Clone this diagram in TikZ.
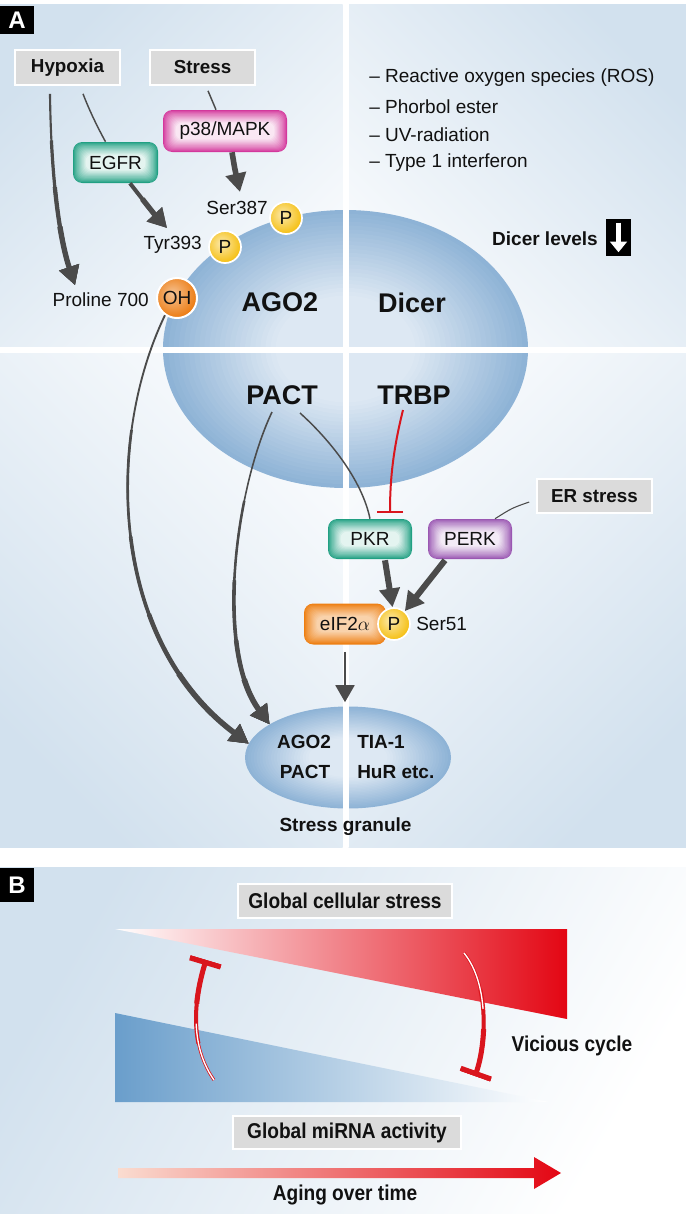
\documentclass[tikz,border=0pt]{standalone}
\usepackage{fontspec}
\setmainfont{Liberation Sans}
\newfontfamily\condf[FakeStretch=0.89]{Liberation Sans}
\usetikzlibrary{arrows.meta,shapes.geometric,calc}
\definecolor{qblue}{HTML}{D2E1EE}
\definecolor{qwhite}{HTML}{F9FBFD}
\definecolor{ellout}{HTML}{8EB3D6}
\definecolor{ellin}{HTML}{DDE8F3}
\definecolor{boxgray}{HTML}{DBDBDB}
\definecolor{arrgray}{HTML}{4B4B4B}
\definecolor{tealc}{HTML}{21A083}
\definecolor{magc}{HTML}{D3389C}
\definecolor{purc}{HTML}{9A57B2}
\definecolor{orgc}{HTML}{EE7E10}
\definecolor{yelc}{HTML}{F5C015}
\definecolor{ohc}{HTML}{EB780C}
\definecolor{redc}{HTML}{E30613}
\definecolor{inhred}{HTML}{D9151D}
\definecolor{bluec}{HTML}{6A9ECB}
\definecolor{pinkc}{HTML}{FADCD0}
\definecolor{txtc}{HTML}{111111}
\pgfdeclareradialshading{yelball}{\pgfpoint{-6bp}{6bp}}{color(0bp)=(yelc!35); color(28bp)=(yelc); color(75bp)=(yelc)}
\pgfdeclareradialshading{ohball}{\pgfpoint{-6bp}{6bp}}{color(0bp)=(ohc!45); color(30bp)=(ohc); color(75bp)=(ohc)}
\newcommand\taperpath[3]{\foreach \tW/\tO in {#2}{\draw[#1, line width=\tW pt, dash pattern=on 0pt off \tO pt on 3000pt] #3;}}
\newcommand\ellgrad[3]{\foreach \gi in {1,...,24}{\pgfmathsetmacro\gf{1-0.028*\gi}\pgfmathsetmacro\gp{min(100,4.6*\gi)}\pgfmathsetmacro\grx{#2*\gf}\pgfmathsetmacro\gry{#3*\gf}\fill[ellin!\gp!ellout] (#1.center) ellipse [x radius=\grx, y radius=\gry];}}
\begin{document}
\begin{tikzpicture}[x=0.75pt, y=-0.75pt,
  every node/.style={text=txtc, font=\fontsize{14.25}{17}\selectfont},
  txt/.style={inner sep=0pt},
  graybox/.style={fill=boxgray, draw=white, line width=1.2pt, minimum height=26.25pt, inner sep=0pt, font=\fontsize{14.1}{17}\selectfont\bfseries},
  glowbox/.style 2 args={rounded corners=7pt, inner sep=0pt, minimum height=30.75pt, fill=#1,
    path picture={\foreach \i in {1,...,12}{\pgfmathsetmacro\pc{100-(100-#2)*(\i/12)^0.85}
      \fill[#1!\pc!white, rounded corners=5pt] ($(path picture bounding box.south west)+(1.05*\i,-1.05*\i)$) rectangle ($(path picture bounding box.north east)+(-1.05*\i,1.05*\i)$);}}},
  pcirc/.style={circle, shading=yelball, draw=white, line width=1.3pt, minimum size=24pt, inner sep=0pt},
  ohcirc/.style={circle, shading=ohball, draw=white, line width=1.5pt, minimum size=30pt, inner sep=0pt},
  bigt/.style={font=\fontsize{20.25}{24}\selectfont\bfseries},
  bt/.style={font=\fontsize{14.25}{17}\selectfont\bfseries},
  condt/.style={font=\fontsize{16.1}{19}\condf\bfseries},
  condbox/.style={fill=boxgray, draw=white, line width=1.2pt, inner sep=0pt, condt},
  garr/.style={draw=arrgray, -{Triangle[length=14pt,width=15pt]}},
  inh/.style={draw=inhred, -{Bar[width=24pt]}},
  labbox/.style={fill=black, text=white, inner sep=0pt, font=\fontsize{18}{20}\selectfont\bfseries}]
% page
\fill[white] (0,0) rectangle (686,1215);
% panel A background quadrants
\shade[top color=qblue, bottom color=qwhite, shading angle=45] (0,4) rectangle (342.5,347);
\shade[top color=qblue, bottom color=qwhite, shading angle=-45] (348.5,4) rectangle (686,347);
\shade[top color=qblue, bottom color=qwhite, shading angle=135] (0,352.5) rectangle (342.5,847);
\shade[top color=qblue, bottom color=qwhite, shading angle=-135] (348.5,352.5) rectangle (686,847);
% ellipses
\node[ellipse, fill=ellout, minimum width=273.75pt, minimum height=208.5pt, inner sep=0pt] (big) at (345.5,349) {};
\ellgrad{big}{182}{139}
\node[ellipse, fill=ellout, minimum width=154.5pt, minimum height=76.5pt, inner sep=0pt] (sg) at (348,757.5) {};
\ellgrad{sg}{103}{51}
% white cross
\fill[white] (342.5,0) rectangle (348.5,847);
\fill[white] (0,347) rectangle (686,352.5);
% labels
\node[labbox, minimum width=25.5pt, minimum height=21pt] (labA) at (17,20) {A};
% ellipse texts
\node[bigt] (ago) at (280,302) {AGO2};
\node[bigt] (dicer) at (412,303) {Dicer};
\node[bigt] (pact) at (282,395) {PACT};
\node[bigt] (trbp) at (414,395) {TRBP};
% boxes
\node[graybox, minimum width=78.75pt] (hyp) at (67.5,67.5) {Hypoxia};
\node[graybox, minimum width=78.75pt] (str) at (202.5,67.5) {Stress};
\node[graybox, minimum width=86.25pt, minimum height=25.5pt] (er) at (594.5,496) {ER stress};
\node[glowbox={magc}{12}, minimum width=93pt, minimum height=31.5pt] (p38) at (225,131) {p38/MAPK};
\node[glowbox={tealc}{12}, minimum width=63.75pt] (egfr) at (115.5,162.5) {EGFR};
\node[glowbox={tealc}{12}, minimum width=63pt, minimum height=30pt] (pkr) at (370,539) {PKR};
\node[glowbox={purc}{12}, minimum width=63pt, minimum height=30pt] (perk) at (470,539) {PERK};
\node[glowbox={orgc}{35}, minimum width=61.5pt] (eif) at (345,624) {eIF2$\alpha$};
\node[pcirc] (p3) at (394,624) {P};
\node[txt, anchor=west] (ser51) at (416,624) {Ser51};
% modification sites
\node[pcirc] (p1) at (286,218) {P};
\node[txt, anchor=east] (ser387) at (268,208) {Ser387};
\node[pcirc] (p2) at (225,247) {P};
\node[txt, anchor=east] (tyr) at (202,245) {Tyr393};
\node[ohcirc] (oh) at (177,298) {OH};
\node[txt, anchor=east] (pro) at (149,300) {Proline 700};
% list
\node[txt, anchor=west] (b1) at (369,78) {– Reactive oxygen species (ROS)};
\node[txt, anchor=west] (b2) at (369,106.5) {– Phorbol ester};
\node[txt, anchor=west] (b3) at (369,135) {– UV-radiation};
\node[txt, anchor=west] (b4) at (369,163) {– Type 1 interferon};
% Dicer levels
\node[bt] (dl) at (545,239) {Dicer levels};
\node[fill=black, minimum width=18.75pt, minimum height=27.75pt, inner sep=0pt] (dbox) at (618.5,237.5) {};
\draw[white, line width=4.2pt, -{Triangle[length=8pt,width=12.5pt]}, shorten <=3pt, shorten >=3pt] (dbox.north) -- (dbox.south);
% stress granule texts
\node[bt] (sg1) at (304,742) {AGO2};
\node[bt] (sg2) at (305,772) {PACT};
\node[bt, inner sep=0pt, anchor=west] (sg3) at (357,742) {TIA-1};
\node[bt, inner sep=0pt, anchor=west] (sg4) at (357,772) {HuR etc.};
\node[bt] (sgl) at (345.5,827) {Stress granule};
% free ends
\coordinate (proTip) at (75,285);
\coordinate (tyrTip) at (167,228);
\coordinate (serTip) at (240,192);
% connectors panel A
\draw[arrgray, line width=1.1pt] ($(hyp.south)+(15.5,8)$) .. controls (90,112) and (98,128) .. ($(egfr.north)+(-10,0)$);
\draw[arrgray, line width=1.1pt] ($(str.south)+(5.5,5)$) -- ($(p38.north)+(-9,0)$);
\taperpath{garr}{1.6/0, 2.4/35, 3.2/70, 4.0/100}{($(hyp.south)+(-17.5,8)$) .. controls (51,180) and (60,240) .. (proTip)}
\taperpath{garr}{3.0/0, 4.0/15}{($(egfr.south)+(14.5,0)$) .. controls (143,200) and (155,215) .. (tyrTip)}
\draw[garr, line width=4.2pt] ($(p38.south)+(7,0)$) .. controls (235,170) .. (serTip);
\taperpath{garr}{1.4/0, 2.0/90, 2.7/170, 3.4/230, 4.2/280}{(oh.-125) .. controls (105,440) and (110,640) .. (sg.172)}
\taperpath{garr}{1.2/0, 1.9/70, 2.7/130, 3.4/175, 4.2/205}{($(pact.center)+(-10,17)$) .. controls (235,490) and (215,650) .. (sg.157)}
\draw[arrgray, line width=1.1pt] ($(pact.center)+(18,18)$) .. controls (330,440) and (362,480) .. (pkr.north);
\draw[inh, line width=1.5pt, -{Bar[width=19.5pt]}] ($(trbp.center)+(-11,15)$) .. controls (393,450) and (390,480) .. ($(pkr.north)+(20,-6)$);
\draw[arrgray, line width=0.8pt] ($(er.west)+(-7,6)$) .. controls (512,508) .. ($(perk.north)+(25,0)$);
\draw[garr, line width=4.5pt] ($(pkr.south)+(15,1)$) -- (p3.95);
\draw[garr, line width=4.5pt] ($(perk.south)+(-25,1)$) -- (p3.50);
\draw[draw=arrgray, line width=2.2pt, -{Triangle[length=12.75pt,width=14pt]}] ($(eif.south)+(0,7)$) -- ($(sg.north)+(-3,-4)$);
% ===== panel B =====
\shade[top color=qblue, bottom color=white, shading angle=60] (0,867) rectangle (686,1213);
\node[labbox, minimum width=25.5pt, minimum height=26pt] (labB) at (17,885) {B};
\shade[left color=white, right color=redc] (115,929) -- (567,929) -- (567,1019) -- cycle;
\shade[left color=bluec, right color=white] (115,1013) -- (115,1102) -- (549,1102) -- cycle;
\node[condbox, minimum width=160.5pt, minimum height=25.5pt] (gcs) at (345,901) {Global cellular stress};
\node[condbox, minimum width=171pt, minimum height=24.75pt] (gma) at (347,1132.5) {Global miRNA activity};
\node[condt] (vc) at (572,1046) {Vicious cycle};
\node[condt] (aging) at (345,1195) {Aging over time};
\shade[left color=pinkc, right color=redc] (118,1168) -- (534,1168) -- (534,1157) -- (561,1173) -- (534,1189) -- (534,1178) -- (118,1178) -- cycle;
% inhibition arcs
\coordinate (lA) at (214,1080);
\coordinate (lB) at (206,960);
\coordinate (rA) at (464,953);
\coordinate (rB) at (475,1076);
\taperpath{inh}{2.2/0, 3.0/30, 3.8/60}{(lA) .. controls (186,1040) and (197,990) .. (lB)}
\draw[white, line width=1pt, dash pattern=on 45pt off 3000pt] (lA) .. controls (186,1040) and (197,990) .. (lB);
\taperpath{inh}{2.2/0, 3.0/30, 3.8/60}{(rA) .. controls (490,985) and (486,1045) .. (rB)}
\draw[white, line width=1pt, dash pattern=on 45pt off 3000pt] (rA) .. controls (490,985) and (486,1045) .. (rB);
\end{tikzpicture}
\end{document}
